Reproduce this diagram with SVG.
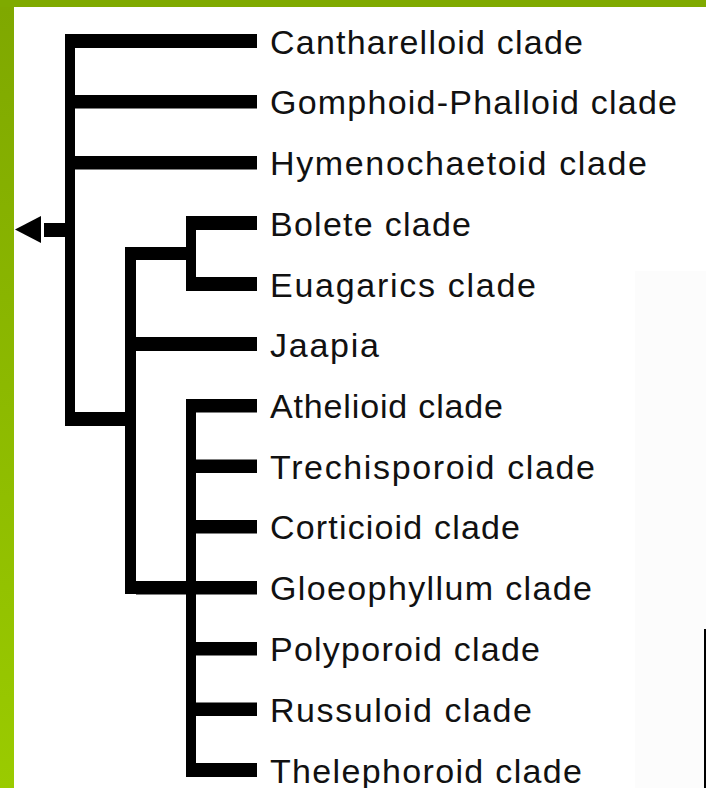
<svg xmlns="http://www.w3.org/2000/svg" width="706" height="788" viewBox="0 0 706 788">
  <defs>
    <linearGradient id="sideBar" x1="0" y1="0" x2="0" y2="1">
      <stop offset="0" stop-color="#7fa800"/>
      <stop offset="1" stop-color="#9acb00"/>
    </linearGradient>
    <style>
      .branch { fill: #000; }
      .label { font-family: "Liberation Sans", Arial, sans-serif; font-size: 34px; fill: #111; }
    </style>
  </defs>

  <!-- page background and frame -->
  <rect x="0" y="0" width="706" height="788" fill="#fff"/>
  <rect x="635" y="271" width="71" height="517" fill="#fcfcfc"/>
  <rect x="704" y="629" width="2" height="159" fill="#000"/>
  <rect x="0" y="0" width="706" height="7" fill="#7faa00"/>
  <rect x="0" y="7" width="14" height="781" fill="url(#sideBar)"/>

  <!-- tree branches -->
  <g id="connectors" class="branch">
    <!-- root arrow -->
    <polygon points="15,229.5 41,216 41,243"/>
    <rect x="44" y="223" width="22" height="14"/>
    <!-- main stem -->
    <rect x="65" y="34" width="10" height="392"/>
    <rect x="65" y="34" width="192" height="14"/>
    <rect x="75" y="95" width="182" height="13.5"/>
    <rect x="75" y="156" width="182" height="13.5"/>
    <rect x="75" y="412" width="61" height="14"/>
    <!-- inner stem -->
    <rect x="125" y="247" width="11" height="347"/>
    <rect x="125" y="247" width="71" height="13"/>
    <!-- bolete / euagarics pair -->
    <rect x="186" y="216" width="10" height="75"/>
    <rect x="186" y="216" width="71" height="14"/>
    <rect x="186" y="277" width="71" height="14"/>
    <!-- jaapia -->
    <rect x="136" y="337" width="121" height="14"/>
    <!-- athelioid comb -->
    <rect x="186" y="399" width="10" height="378"/>
    <rect x="186" y="399" width="71" height="13.5"/>
    <rect x="196" y="459.5" width="61" height="13.5"/>
    <rect x="196" y="520" width="61" height="13.5"/>
    <rect x="136" y="581" width="121" height="13.5"/>
    <rect x="196" y="642" width="61" height="13.5"/>
    <rect x="196" y="702.5" width="61" height="13.5"/>
    <rect x="186" y="763" width="71" height="14"/>
  </g>

  <!-- leaf labels -->
  <g id="cantharelloid"><text class="label" x="270" y="53.5" textLength="313">Cantharelloid clade</text></g>
  <g id="gomphoid-phalloid"><text class="label" x="270" y="114" textLength="407">Gomphoid-Phalloid clade</text></g>
  <g id="hymenochaetoid"><text class="label" x="270" y="175" textLength="377">Hymenochaetoid clade</text></g>
  <g id="bolete"><text class="label" x="270" y="235.5" textLength="201">Bolete clade</text></g>
  <g id="euagarics"><text class="label" x="270" y="296.5" textLength="266">Euagarics clade</text></g>
  <g id="jaapia"><text class="label" x="270" y="356.5" textLength="109">Jaapia</text></g>
  <g id="athelioid"><text class="label" x="270" y="418" textLength="233">Athelioid clade</text></g>
  <g id="trechisporoid"><text class="label" x="270" y="478.5" textLength="325">Trechisporoid clade</text></g>
  <g id="corticioid"><text class="label" x="270" y="539" textLength="250">Corticioid clade</text></g>
  <g id="gloeophyllum"><text class="label" x="270" y="600" textLength="322">Gloeophyllum clade</text></g>
  <g id="polyporoid"><text class="label" x="270" y="661" textLength="270">Polyporoid clade</text></g>
  <g id="russuloid"><text class="label" x="270" y="721.5" textLength="262">Russuloid clade</text></g>
  <g id="thelephoroid"><text class="label" x="270" y="782.5" textLength="312">Thelephoroid clade</text></g>
</svg>
